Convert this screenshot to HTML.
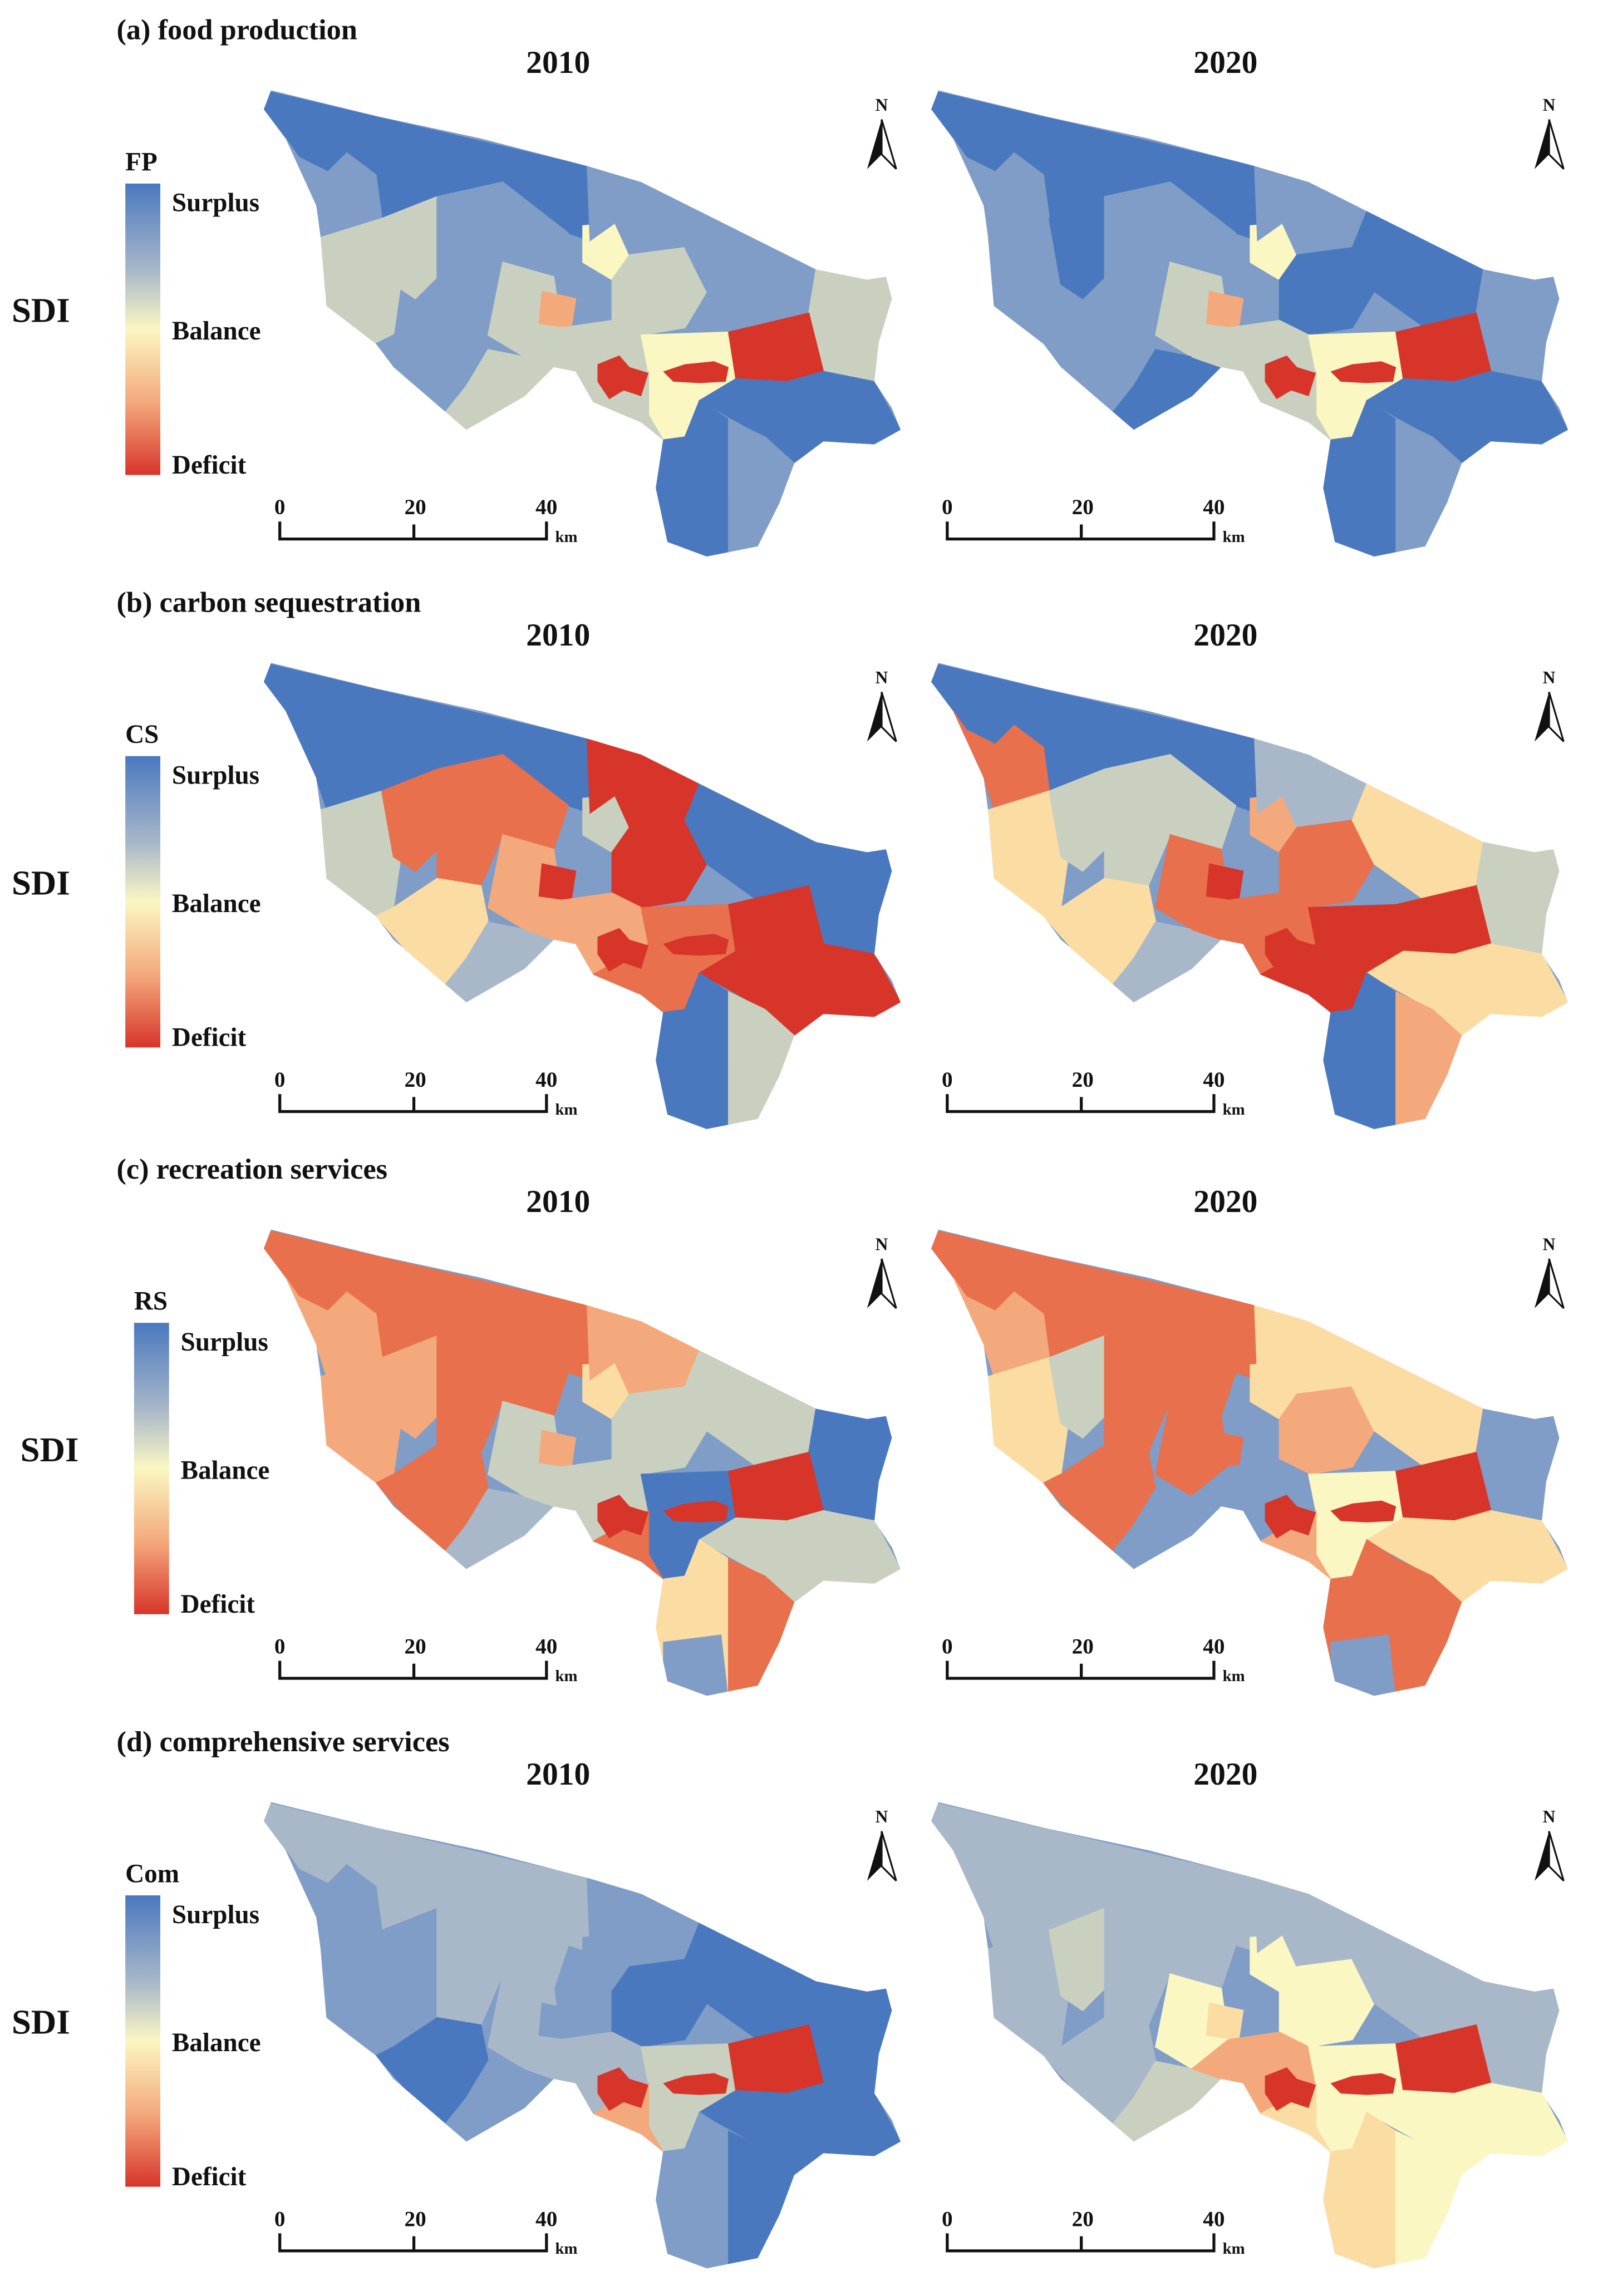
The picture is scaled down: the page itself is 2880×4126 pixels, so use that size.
<!DOCTYPE html>
<html><head><meta charset="utf-8"><style>
html,body{margin:0;padding:0;background:#fff}
svg{display:block}
text{font-family:"Liberation Serif",serif;font-weight:bold;fill:#111}
</style></head><body>
<svg id="fig" xmlns="http://www.w3.org/2000/svg" width="2880" height="4126" viewBox="0 0 1100 1576" preserveAspectRatio="none">
<defs>
<linearGradient id="lg" x1="0" y1="0" x2="0" y2="1">
<stop offset="0" stop-color="#4a78bf"/><stop offset="0.3" stop-color="#a9b8c9"/><stop offset="0.5" stop-color="#fbf7c2"/><stop offset="0.75" stop-color="#f4a97c"/><stop offset="1" stop-color="#d7352a"/>
</linearGradient>
</defs>
</svg>
<script>
const rowTitles=["(a) food production","(b) carbon sequestration","(c) recreation services","(d) comprehensive services"];
const legendTitles=["FP","CS","RS","Com"];
const years=["2010","2020"];
const rowOffsets=[0,393,782,1175];
const colOffsets=[0,458];
const outline="186,62 260,80 330,95 403,114 440,125 480,145 520,165 560,185 595,192 608,190 612,205 603,235 600,262 612,280 618,295 600,305 565,303 545,318 535,345 520,375 485,382 458,372 450,335 455,302 440,290 407,276 395,255 380,252 360,272 320,295 270,252 258,236 224,210 220,163 217,141 196,95 181,75";
const regions=[
"181,62 240,76 238,105 225,118 205,108 196,95 181,75",
"240,76 403,114 405,165 390,160 345,125 300,135 262,150 258,120 238,105",
"196,95 205,108 225,118 238,105 258,120 262,150 225,165 217,141",
"220,163 262,150 275,195 270,230 258,236 224,210",
"262,150 300,135 300,190 285,205 270,195",
"300,135 345,125 390,160 380,190 345,180 330,215 300,210 300,190",
"345,180 380,190 385,225 360,245 335,230",
"270,230 300,210 330,215 335,240 320,265 300,290 275,255 258,236",
"320,265 335,240 360,245 380,252 360,272 320,295 300,290",
"400,155 422,153 432,175 420,192 400,180",
"372,200 395,205 392,225 370,222",
"403,114 440,125 480,145 470,170 432,175 422,153 405,165",
"432,175 470,170 485,200 470,225 440,230 420,220 420,192",
"480,145 520,165 560,185 555,215 520,225 485,200 470,170",
"560,185 612,190 612,205 603,235 600,262 565,255 555,215",
"385,225 420,220 440,230 445,255 407,276 395,255 380,252 360,245",
"440,230 500,228 505,260 480,275 470,300 455,302 445,285 445,255",
"500,228 555,215 565,255 540,262 505,260",
"505,260 540,262 565,255 600,262 618,295 600,305 565,303 545,318 525,300 480,275",
"455,302 470,300 480,275 500,288 500,385 485,382 458,372 450,335",
"500,288 525,300 545,318 535,345 520,375 500,385",
"407,276 445,255 445,285 455,302 440,290"
];
const pal={D:"#4a78bf",B:"#7f9dc6",G:"#a9b8c9",N:"#c9d0bf",Y:"#fbf7c2",P:"#fbdca3",O:"#f4a97c",R:"#e8704c",X:"#d7352a"};
const a2010="DDBNNBNBNYOBNBNNYXDDBN";
const a2020="DDBBDBNBDYOBDDBNYXDDBN";
const b2010="DDDNRROPGNXXXDDORXXDNR";
const b2020="DDRPNNRPGOXGRPNRXXPDOX";
const c2010="RROOORNRGPOONNDNDXNPRR";
const c2020="RROPNRRRBPRPOPBBYXPRRO";
const d2010="GGBBBGGDBBBBDDDGNXDBDO";
const d2020="GGGGNGYGNYPGYGGOYXYPYP";
const panelColors=[[a2010,a2020],[b2010,b2020],[c2010,c2020],[d2010,d2020]];
const speckles=["410,250 425,244 432,252 445,256 440,272 428,268 418,274 410,262","455,255 470,250 490,248 500,252 498,262 480,263 462,262"];
const svg=document.getElementById('fig');
const NS="http://www.w3.org/2000/svg";
function mk(tag,attrs,parent){const e=document.createElementNS(NS,tag);for(const k in attrs)e.setAttribute(k,attrs[k]);(parent||svg).appendChild(e);return e;}
function txt(x,y,s,size,parent,anchor){const t=mk('text',{x:x,y:y,'font-size':size,'text-anchor':anchor||'start'},parent);t.textContent=s;return t;}
const defs=svg.querySelector('defs');
const cp=mk('clipPath',{id:'mapclip'},defs);mk('polygon',{points:outline},cp);
rowOffsets.forEach((oy,r)=>{
  const t=txt(80,27+oy,rowTitles[r],20);
  
  
  const lx=r===2?6:0;
  const sdi=txt(8+lx,221+oy,"SDI",24);
  
  
  const lt=txt(86+lx,117+oy,legendTitles[r],18);
  
  
  const bar=mk('rect',{x:86+lx,y:126+oy,width:24,height:200,fill:'url(#lg)'});
  
  
  [["Surplus",145],["Balance",233],["Deficit",325]].forEach(([s,y])=>{const l=txt(118+lx,y+oy,s,18);
    
    });
  colOffsets.forEach((ox,c)=>{
    const g=mk('g',{transform:`translate(${ox},${oy})`});
    
    
    const yr=txt(383,50,years[c],22,g,'middle');
    
    
    const inner=mk('g',{'clip-path':'url(#mapclip)'},g);
    mk('polygon',{points:outline,fill:pal.B},inner);
    const cols=panelColors[r][c];
    regions.forEach((p,i)=>{const poly=mk('polygon',{points:p,fill:pal[cols[i]],stroke:pal[cols[i]],'stroke-width':0.8},inner);
      
      });
    speckles.forEach(p=>{const s=mk('polygon',{points:p,fill:pal.X},inner);
      
      });
    if(r===2){const b=mk('polygon',{points:"455,345 495,340 500,385 470,385 455,372",fill:pal.B},inner);
      
      }
    // north arrow
    const na=mk('g',{},g);
    
    
    txt(605,76,"N",12,na,'middle');
    mk('polygon',{points:"605,82 595,116 605,106",fill:'#111'},na);
    mk('polygon',{points:"605,82 615,116 605,106",fill:'#fff',stroke:'#111','stroke-width':1.2},na);
    // scale bar
    const sb=mk('g',{},g);
    
    
    mk('path',{d:"M192,358 V370 H375 V358 M284,360 V370",stroke:'#111','stroke-width':2,fill:'none'},sb);
    txt(192,353,"0",15,sb,'middle');txt(285,353,"20",15,sb,'middle');txt(375,353,"40",15,sb,'middle');
    txt(381,372,"km",11,sb);
  });
});
</script>
</body></html>
